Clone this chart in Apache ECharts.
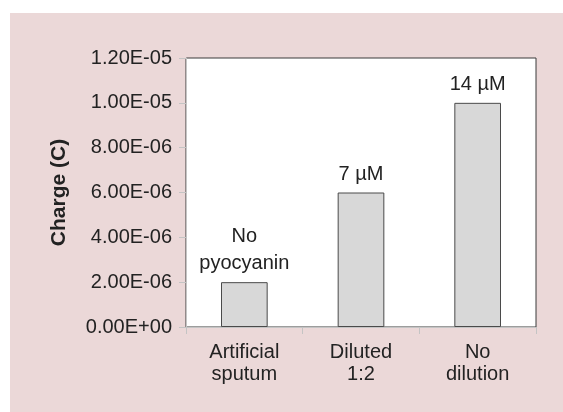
<!DOCTYPE html>
<html>
<head>
<meta charset="utf-8">
<script src="https://cdn.jsdelivr.net/npm/echarts@6/dist/echarts.min.js"></script>
<style>
  html, body { margin: 0; padding: 0; background: #fff; }
  #chart { width: 563px; height: 412px; }
</style>
</head>
<body>
<div id="chart"></div>
<script>
// categories along x (two line labels)
const categories = ['Artificial\nsputum', 'Diluted\n1:2', 'No\ndilution']
// charge in coulombs
const charge = [2.0e-6, 6.0e-6, 1.0e-5]
// text drawn above each bar
const barNotes = ['No\npyocyanin', '7 µM', '14 µM']
// y tick labels, 0 .. 1.2e-5 step 2e-6
const yTickLabels = ['0.00E+00', '2.00E-06', '4.00E-06', '6.00E-06', '8.00E-06', '1.00E-05', '1.20E-05']
const yStep = 2e-6

const FONT = 'Liberation Sans, Arial, sans-serif'

let myChart = echarts.init(document.getElementById('chart'))
let option = {
  backgroundColor: '#ffffff',
  animation: false,
  textStyle: { fontFamily: FONT },
  graphic: [
    {
      type: 'rect',
      z: -10,
      shape: { x: 10, y: 13, width: 553, height: 399 },
      style: { fill: '#ebd8d8' }
    }
  ],
  grid: {
    left: 186,
    right: 27,
    top: 58,
    bottom: 85,
    show: true,
    backgroundColor: '#ffffff',
    borderColor: '#3a3a3a',
    borderWidth: 1
  },
  xAxis: {
    type: 'category',
    data: categories,
    axisLine: { show: true, lineStyle: { color: '#c4c4c4', width: 1 } },
    axisTick: { show: true, length: 7, lineStyle: { color: '#c4c4c4' } },
    axisLabel: {
      margin: 14,
      fontSize: 20,
      lineHeight: 22,
      color: '#222',
      fontFamily: FONT
    }
  },
  yAxis: {
    type: 'value',
    min: 0,
    max: 1.2e-5,
    interval: yStep,
    name: 'Charge (C)',
    nameLocation: 'middle',
    nameGap: 116,
    nameTextStyle: {
      fontSize: 21,
      fontWeight: 'bold',
      color: '#222',
      fontFamily: FONT
    },
    splitLine: { show: false },
    axisLine: { show: true, lineStyle: { color: '#c4c4c4', width: 1 } },
    axisTick: { show: true, length: 7, lineStyle: { color: '#c4c4c4' } },
    axisLabel: {
      margin: 14,
      fontSize: 20,
      color: '#222',
      fontFamily: FONT,
      formatter: function (v) {
        return yTickLabels[Math.round(v / yStep)]
      }
    }
  },
  series: [
    {
      type: 'bar',
      data: charge,
      barWidth: '40%',
      itemStyle: {
        color: '#d8d8d8',
        borderColor: '#4a4a4a',
        borderWidth: 1
      },
      label: {
        show: true,
        position: 'top',
        distance: 5,
        fontSize: 20,
        lineHeight: 27,
        color: '#222',
        fontFamily: FONT,
        formatter: function (p) {
          return barNotes[p.dataIndex]
        }
      }
    }
  ]
}
myChart.setOption(option)
</script>
</body>
</html>
